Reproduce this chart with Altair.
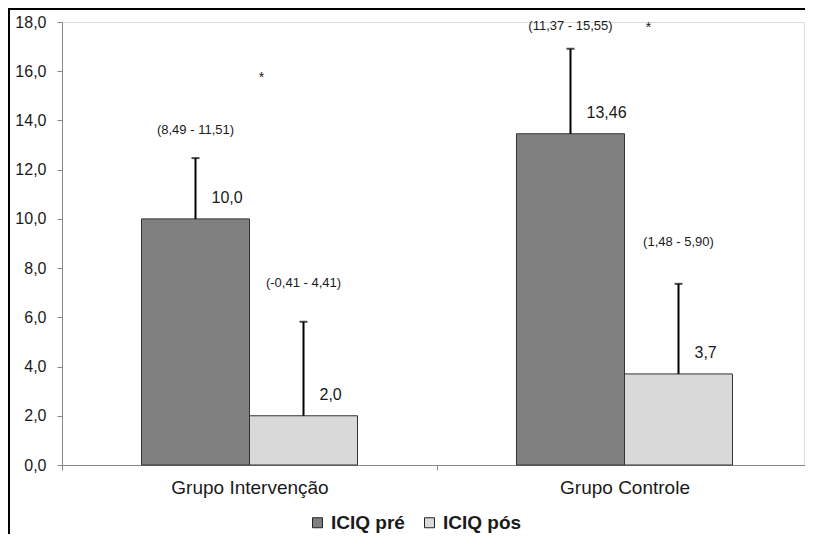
import altair as alt
import pandas as pd

groups = ["Grupo Intervenção", "Grupo Intervenção", "Grupo Controle", "Grupo Controle"]
series = ["ICIQ pré", "ICIQ pós", "ICIQ pré", "ICIQ pós"]
means = [10.0, 2.0, 13.46, 3.7]
err_top = [12.47, 5.82, 16.91, 7.36]
value_labels = ["10,0", "2,0", "13,46", "3,7"]
ci_labels = ["(8,49 - 11,51)", "(-0,41 - 4,41)", "(11,37 - 15,55)", "(1,48 - 5,90)"]
ci_label_y = [13.6, 7.41, 17.83, 9.08]
star_groups = ["Grupo Intervenção", "Grupo Controle"]
star_y = [15.88, 17.9]
group_order = ["Grupo Intervenção", "Grupo Controle"]
series_order = ["ICIQ pré", "ICIQ pós"]

df = pd.DataFrame({
    "group": groups, "series": series, "mean": means, "top": err_top,
    "vlabel": value_labels, "ci": ci_labels, "ci_y": ci_label_y,
})
stars = pd.DataFrame({"group": star_groups, "y": star_y, "s": ["*", "*"]})

FONT = "Liberation Sans"
TXT = "#1a1a1a"

x_scale = alt.Scale(domain=group_order, paddingInner=0, paddingOuter=0, range=[0, 750])
x_enc = alt.X("group:N", sort=group_order, scale=x_scale,
              axis=alt.Axis(title=None, labelFontSize=19, labelColor=TXT,
                            labelFont=FONT, labelPadding=8, tickBand="extent",
                            domainColor="#888", tickColor="#888", tickSize=5,
                            labelAngle=0))
xo_enc = alt.XOffset("series:N", sort=series_order,
                     scale=alt.Scale(paddingInner=0, paddingOuter=0.736))
y_scale = alt.Scale(domain=[0, 18], nice=False)

bars = alt.Chart(df).mark_bar(stroke="#333", strokeWidth=1).encode(
    x=x_enc,
    xOffset=xo_enc,
    y=alt.Y("mean:Q", scale=y_scale,
            axis=alt.Axis(title=None, values=list(range(0, 19, 2)),
                          labelExpr="replace(format(datum.value, '.1f'), '.', ',')",
                          labelFontSize=16, labelColor=TXT, labelFont=FONT,
                          labelPadding=11, grid=False, domainColor="#888",
                          tickColor="#888", tickSize=5)),
    color=alt.Color("series:N", sort=series_order,
                    scale=alt.Scale(domain=series_order, range=["#808080", "#d9d9d9"]),
                    legend=alt.Legend(title=None, orient="none", legendX=246, legendY=491,
                                      direction="horizontal", symbolType="square",
                                      symbolSize=100, symbolStrokeColor="#222",
                                      symbolStrokeWidth=1, labelFontSize=19,
                                      labelFontWeight="bold", labelColor=TXT,
                                      labelFont=FONT, columnPadding=15,
                                      symbolOffset=0, labelOffset=4)),
)

base = alt.Chart(df).encode(x=alt.X("group:N", sort=group_order, scale=x_scale), xOffset=xo_enc)

err = base.mark_rule(color="black", strokeWidth=2).encode(
    y=alt.Y("mean:Q", scale=y_scale), y2="top:Q")
cap = base.mark_tick(color="black", thickness=2, size=8, orient="horizontal").encode(
    y=alt.Y("top:Q", scale=y_scale))
vtext = base.mark_text(fontSize=16, font=FONT, color=TXT, dx=16, dy=-21,
                       align="left", baseline="middle").encode(
    y=alt.Y("mean:Q", scale=y_scale), text="vlabel:N")
citext = base.mark_text(fontSize=13, font=FONT, color=TXT,
                        baseline="middle").encode(
    y=alt.Y("ci_y:Q", scale=y_scale), text="ci:N")

star1 = alt.Chart(stars).transform_filter(alt.datum.group == "Grupo Intervenção").mark_text(
    fontSize=14, font=FONT, color=TXT, dx=12, dy=4, baseline="middle").encode(
    x=alt.X("group:N", sort=group_order, scale=x_scale), y=alt.Y("y:Q", scale=y_scale), text="s:N")
star2 = alt.Chart(stars).transform_filter(alt.datum.group == "Grupo Controle").mark_text(
    fontSize=14, font=FONT, color=TXT, dx=24, dy=4, baseline="middle").encode(
    x=alt.X("group:N", sort=group_order, scale=x_scale), y=alt.Y("y:Q", scale=y_scale), text="s:N")

frame_left = alt.Chart(df).mark_rule(color="black", strokeWidth=2).encode(
    x=alt.value(-53), y=alt.value(-13), y2=alt.value(540))
frame_top = alt.Chart(df).mark_rule(color="black", strokeWidth=2).encode(
    x=alt.value(-54), x2=alt.value(760), y=alt.value(-13))

chart = alt.layer(bars, err, cap, vtext, citext, star1, star2, frame_left, frame_top).properties(
    width=742, height=443,
    autosize=alt.AutoSizeParams(type="none"),
    padding={"left": 54, "top": 14, "right": 1, "bottom": 69},
).configure_view(stroke=None).configure(font=FONT)

chart.save("out.html", embed_options={"renderer": "svg", "actions": False})
